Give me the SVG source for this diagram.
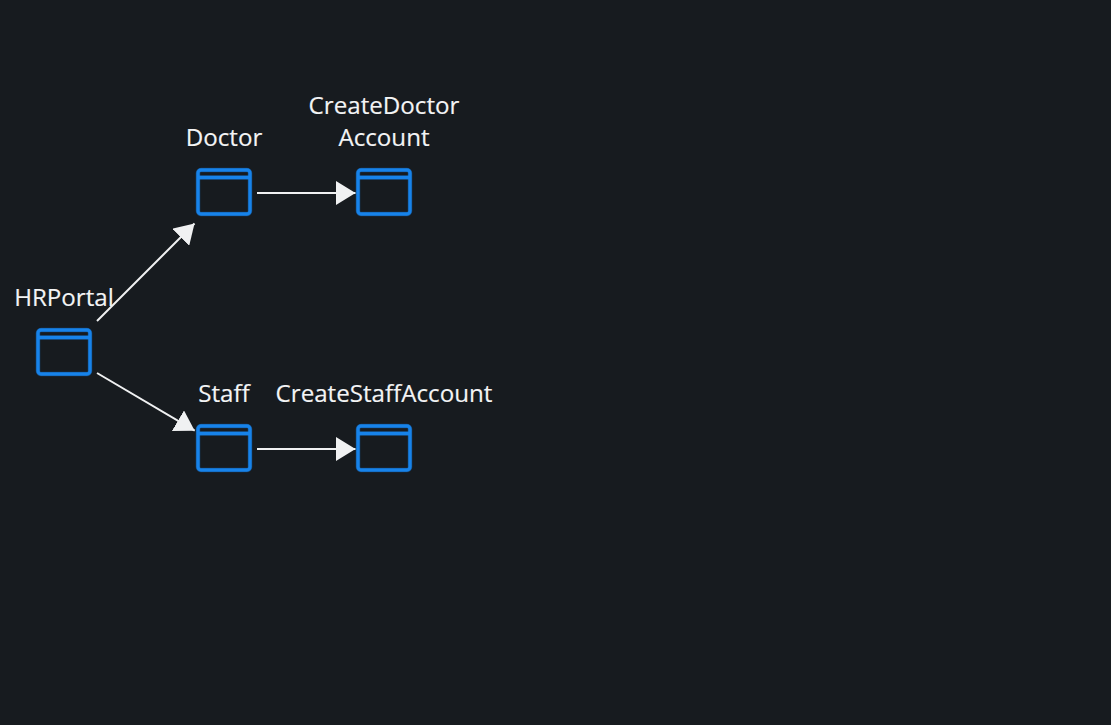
<svg xmlns="http://www.w3.org/2000/svg" width="1111" height="725" viewBox="0 0 1111 725">
<style>
.t{font-family:"Open Sans","Noto Sans",sans-serif;font-size:24.15px;fill:#f3f4f5;stroke:#f3f4f5;stroke-width:.15px;text-anchor:middle}
.b{fill:none;stroke:#1783ea;stroke-width:3.4}
.g{fill:none;stroke:#1783ea;stroke-opacity:.35;stroke-width:4.6}
.c{stroke:#f0f1f2;stroke-width:2;fill:none;marker-end:url(#a)}
</style>
<defs>
<marker id="a" markerUnits="userSpaceOnUse" markerWidth="20" markerHeight="24" refX="19.5" refY="12" orient="auto"><path d="M0 0L19.5 12L0 24Z" fill="#f0f1f2"/></marker>
<g id="w"><rect class="g" x="2" y="2" width="52" height="44" rx="3"/><path class="g" d="M2 9.5H54"/><rect class="b" x="2" y="2" width="52" height="44" rx="3"/><path class="b" d="M2 9.5H54"/></g>
</defs>
<rect width="1111" height="725" fill="#171b1f"/>
<g id="connectors">
<path class="c" d="M97 321L194.5 223.5"/>
<path class="c" d="M97 373L194.7 430.7"/>
<path class="c" d="M257 193H355.5"/>
<path class="c" d="M257 449H355.5"/>
</g>
<g id="HRPortal"><use href="#w" x="36" y="328"/><text class="t" x="64" y="306">HRPortal</text></g>
<g id="Doctor"><use href="#w" x="196" y="168"/><text class="t" x="224" y="146">Doctor</text></g>
<g id="CreateDoctorAccount"><use href="#w" x="356" y="168"/><text class="t" x="384" y="114">CreateDoctor</text><text class="t" x="384" y="146">Account</text></g>
<g id="Staff"><use href="#w" x="196" y="424"/><text class="t" x="224" y="402">Staff</text></g>
<g id="CreateStaffAccount"><use href="#w" x="356" y="424"/><text class="t" x="384" y="402">CreateStaffAccount</text></g>
</svg>
